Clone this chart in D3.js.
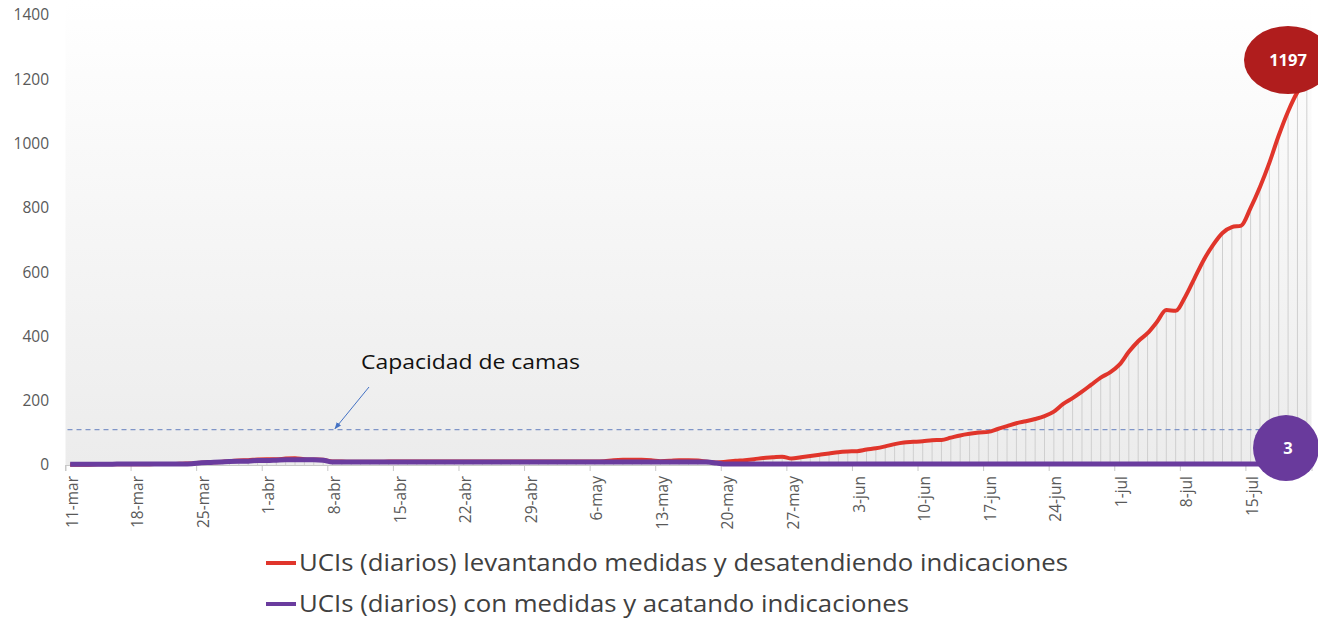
<!DOCTYPE html>
<html><head><meta charset="utf-8">
<script src="https://cdn.jsdelivr.net/npm/d3@7"></script>
<style>body{margin:0;background:#fff;overflow:hidden}svg{display:block}</style>
</head><body><svg id="c" width="1318" height="619"></svg>
<script>
// Categories: daily dates 11-mar .. 21-jul
const startDate = new Date(2020, 2, 11);
const endDate = new Date(2020, 6, 22);
const categories = d3.timeDay.range(startDate, endDate);
const monthNames = ["ene","feb","mar","abr","may","jun","jul"];
const tickLabels = ["11-mar","18-mar","25-mar","1-abr","8-abr","15-abr","22-abr","29-abr","6-may","13-may","20-may","27-may","3-jun","10-jun","17-jun","24-jun","1-jul","8-jul","15-jul"];
const yTicks = [0,200,400,600,800,1000,1200,1400];
const capacidad = 110;
const seriesNames = ["UCIs (diarios) levantando medidas y desatendiendo indicaciones","UCIs (diarios) con medidas y acatando indicaciones"];

// Red: levantando medidas
const redValues = [
 1,1,1,2,2,2,2,2,2,3, 3,3,4,5, 7,8,9,12, 14,15,17,
 18,18,20,21,18,17,16,
 11,11,10,10,10,10,11,11,11,11,11,11,11,11,11,11,11,11,11,11,11,11,11,11,11,11,11,11,11,12,
 15,16,16,16,15, 12,13,15,15, 14,10,8,10,
 13,15,18,22,24,26,20, 24,28,32,36,40,42,43,
 48,52,58,65,70,72,74, 77,78,85,92,97,101,103,
 112,121,130,136,143,152,166, 190,208,228,250,272,288,
 312,352,385,410,445,482,480, 522,580,638,685,722,740,745,
 800,865,940,1025,1100,1160,1197
];
// Purple: con medidas
const purpleValues = [
 2,2,2,2,2,3,3,3,3,3,3,3,3,4, 7,8,9,11, 12,12,14,
 14,15,16,16,16,16,15,
 9,9,9,9,9,9,9,9,9,9,9,9,9,9,9,9,9,9,9,9,9,9,9,9,9,9,9,9,9,9,9,9,9,9,9,9,9,9,9,9,9,6,
 3,3,3,3,3,3,3,3,3,3,3,3,3,3,3,3,3,3,3,3,3,3,3,3,3,3,3,3,3,3,3,3,3,3,3,3,3,3,3,3,3,3,3,3,3,3,3,3,3,3,3,3,3,3,3,3,3,3,3,3,3,3,3
];

const fmt = d => d.getDate() + "-" + monthNames[d.getMonth()];
const data = categories.map((d,i)=>({date:d, key:fmt(d), red:redValues[i], purple:purpleValues[i]}));

const svg = d3.select("#c");
const x = d3.scaleBand().domain(data.map(d=>d.key)).range([65.5, 1311.5]).paddingInner(0).paddingOuter(0);
const y = d3.scaleLinear().domain([0,1400]).range([465,15]);
const cx = k => x(k) + x.bandwidth()/2;

// background gradient
const defs = svg.append("defs");
const g = defs.append("linearGradient").attr("id","bg").attr("x1",0).attr("y1",0).attr("x2",0).attr("y2",1);
g.append("stop").attr("offset","0%").attr("stop-color","#ffffff");
g.append("stop").attr("offset","100%").attr("stop-color","#ececec");
const mk = defs.append("marker").attr("id","arr").attr("viewBox","0 0 10 10").attr("refX",9).attr("refY",5)
  .attr("markerWidth",7).attr("markerHeight",7).attr("orient","auto");
mk.append("path").attr("d","M0,1 L10,5 L0,9 z").attr("fill","#4472c4");

svg.append("rect").attr("x",x.range()[0]).attr("y",0).attr("width",x.range()[1]-x.range()[0]).attr("height",y(0)).attr("fill","url(#bg)");

// drop lines
svg.append("g").selectAll("line").data(data).join("line")
  .attr("x1",d=>cx(d.key)).attr("x2",d=>cx(d.key))
  .attr("y1",y(0)).attr("y2",d=>y(Math.max(d.red,d.purple)))
  .attr("stroke","#cfcfcf").attr("stroke-width",1);

// x axis
const xAxis = d3.axisBottom(x).tickValues(tickLabels).tickSize(6).tickFormat(d=>d);
const xg = svg.append("g").attr("transform",`translate(0,${y(0)})`).call(xAxis);
xg.select(".domain").attr("stroke","#c8c8c8");
xg.selectAll(".tick line").attr("stroke","#c8c8c8").attr("transform",`translate(${-x.bandwidth()/2},0)`);
xg.selectAll(".tick text").attr("transform","rotate(-90)").attr("text-anchor","end")
  .attr("x",-11).attr("y",2).attr("dy","0.35em")
  .attr("font-family","'Open Sans', sans-serif").attr("font-size","15.5px").attr("fill","#595959");

// y axis labels
const yg = svg.append("g");
yg.selectAll("text").data(yTicks).join("text")
  .attr("x",49).attr("y",d=>y(d)).attr("dy","0.35em").attr("text-anchor","end")
  .attr("font-family","'Open Sans', sans-serif").attr("font-size","15.5px").attr("fill","#595959")
  .text(d=>d);

// capacity line
svg.append("line").attr("x1",x.range()[0]+2).attr("x2",x.range()[1]).attr("y1",y(capacidad)).attr("y2",y(capacidad))
  .attr("stroke","#7f95c8").attr("stroke-width",1.3).attr("stroke-dasharray","5,4");

// lines
const lineRed = d3.line().x(d=>cx(d.key)).y(d=>y(d.red)).curve(d3.curveMonotoneX);
const linePurple = d3.line().x(d=>cx(d.key)).y(d=>y(d.purple)).curve(d3.curveMonotoneX);
svg.append("path").datum(data).attr("d",lineRed).attr("fill","none").attr("stroke","#e0352b").attr("stroke-width",4).attr("stroke-linejoin","round");
svg.append("path").datum(data).attr("d",linePurple).attr("fill","none").attr("stroke","#6a3c9e").attr("stroke-width",5).attr("stroke-linejoin","round");

// annotation
const ann = svg.append("text").attr("x",361).attr("y",369).attr("font-family","'Open Sans', sans-serif")
  .attr("font-size","20px").attr("fill","#111").text("Capacidad de camas");
ann.attr("textLength",219).attr("lengthAdjust","spacingAndGlyphs");
svg.append("line").attr("x1",369).attr("y1",387).attr("x2",335).attr("y2",y(capacidad)-1)
  .attr("stroke","#4472c4").attr("stroke-width",1).attr("marker-end","url(#arr)");

// bubbles
const last = data[data.length-1];
svg.append("ellipse").attr("cx",1288).attr("cy",60).attr("rx",44).attr("ry",34).attr("fill","#b01d1d");
svg.append("text").attr("x",1288).attr("y",60).attr("dy","0.36em").attr("text-anchor","middle")
  .attr("font-family","'Open Sans', sans-serif").attr("font-weight","bold").attr("font-size","16.5px").attr("fill","#fff").text(last.red);
svg.append("circle").attr("cx",1286).attr("cy",448).attr("r",33).attr("fill","#693a9c");
svg.append("text").attr("x",1288).attr("y",448).attr("dy","0.36em").attr("text-anchor","middle")
  .attr("font-family","'Open Sans', sans-serif").attr("font-weight","bold").attr("font-size","16.5px").attr("fill","#fff").text(last.purple);

// legend
const leg = [{name:seriesNames[0], color:"#e0352b", y:563, w:769},{name:seriesNames[1], color:"#6a3c9e", y:604, w:610}];
const lg = svg.append("g");
leg.forEach(l=>{
  lg.append("line").attr("x1",266).attr("x2",296).attr("y1",l.y).attr("y2",l.y).attr("stroke",l.color).attr("stroke-width",4);
  lg.append("text").attr("x",299).attr("y",l.y+8).attr("font-family","'Open Sans', sans-serif").attr("font-size","23px")
    .attr("fill","#404040").attr("textLength",l.w).attr("lengthAdjust","spacingAndGlyphs").text(l.name);
});
</script></body></html>
